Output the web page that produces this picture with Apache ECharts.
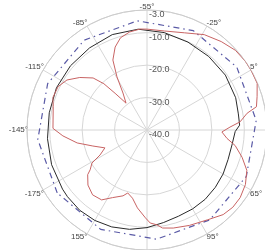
<!DOCTYPE html>
<html>
<head>
<meta charset="utf-8">
<script src="https://cdn.jsdelivr.net/npm/echarts@6/dist/echarts.min.js"></script>
<style>
  html, body { margin: 0; padding: 0; background: #fff; }
  #main { width: 265px; height: 250px; }
</style>
</head>
<body>
<div id="main"></div>
<script>
// angle labels run clockwise, -55° at the top
var angleTop = -55;
var hiddenAngleLabels = [35, 125];   // these fall outside the picture
var radiusMin = -40;
var radiusMax = -3;

// red trace: angle (deg), level (dB)
var redAngles = [-180, -176, -173, -168, -161.5, -155.5, -149, -144, -131, -126, -119, -113, -107, -101, -98, -96, -93,
  -88, -84.5, -81, -76, -71, -65, -59, -55, -45, -34, -24, -15, -7, 0, 5, 12, 18, 23, 25.5, 30, 33, 36.5, 41, 45, 51,
  57, 64, 71, 77, 83, 91, 101, 110, 116, 119, 123, 126, 132, 137, 142, 145, 152, 158, 165, 172, 178, 180];
var redValues = [-18.6, -20.2, -23.6, -25.9, -22.6, -18.1, -14.0, -11.0, -10.2, -9.3, -9.5, -10.9, -13.7, -16.9, -20.5, -25.0, -29.5,
  -26.4, -21.2, -16.0, -12.6, -10.4, -9.3, -8.8, -8.9, -9.0, -7.9, -5.7, -4.4, -3.3, -3.0, -3.0, -3.1, -4.5, -5.5, -8.7, -11.2, -14.4, -16.9, -15.2, -12.4, -9.5,
  -6.8, -5.3, -4.5, -4.4, -4.9, -6.6, -7.8, -8.7, -9.4, -10.6, -11.3, -12.9, -15.8, -18.5, -19.7, -18.4, -16.6, -14.3, -13.9, -15.1, -17.1, -18.6];

// black trace
var blackAngles = [-180, -165, -150, -135, -120, -105, -90, -75, -60, -45, -30, -15, 0, 15, 25, 32, 36, 45, 55, 65,
  75, 85, 95, 105, 115, 125, 135, 145, 155, 165, 175, 180];
var blackValues = [-8.2, -8.7, -9.2, -9.4, -9.2, -9.2, -9.1, -8.7, -8.8, -9.5, -10.1, -10.4, -10.5, -10.9, -11.4, -11.4, -12.8, -13.4, -13.4, -12.9,
  -12.5, -12.1, -11.9, -11.7, -11.0, -9.9, -8.9, -8.2, -7.8, -7.7, -8.0, -8.2];

// blue dash-dot reference ring
var blueAngles = [-180, -150, -120, -90, -60, -30, 0, 30, 60, 90, 120, 150, 180];
var blueValues = [-6.2, -6.2, -6.2, -6.2, -6.2, -6.2, -6.2, -6.2, -6.2, -6.2, -6.2, -6.2, -6.2];

function toPolar(angles, values) {
  var out = [];
  for (var i = 0; i < angles.length; i++) {
    var a = ((angles[i] - angleTop) % 360 + 360) % 360;
    out.push([values[i], a]);
  }
  return out;
}

var chart = echarts.init(document.getElementById('main'));

var option = {
  animation: false,
  textStyle: { fontFamily: 'Liberation Sans' },
  polar: {
    center: [147, 130],
    radius: 120
  },
  angleAxis: {
    type: 'value',
    min: 0,
    max: 360,
    interval: 30,
    startAngle: 90,
    clockwise: true,
    axisLine: { lineStyle: { color: '#cccccc', width: 1 } },
    axisTick: { show: false },
    splitLine: { lineStyle: { color: '#d6d6d6', width: 1 } },
    axisLabel: {
      margin: -1,
      fontSize: 8,
      color: '#444',
      formatter: function (v) {
        var a = v + angleTop;
        if (a > 180) a -= 360;
        if (hiddenAngleLabels.indexOf(a) >= 0) return '';
        return a + '°';
      }
    }
  },
  radiusAxis: {
    type: 'value',
    min: radiusMin,
    max: radiusMax,
    interval: 10,
    axisLine: { show: false },
    axisTick: { show: false },
    splitLine: { lineStyle: { color: '#d6d6d6', width: 1 } },
    axisLabel: {
      fontSize: 9,
      color: '#555',
      margin: -2,
      align: 'left',
      verticalAlign: 'top',
      hideOverlap: false,
      formatter: function (v) { return v.toFixed(1); }
    }
  },
  series: [{
    type: 'line',
    coordinateSystem: 'polar',
    symbol: 'none',
    data: toPolar(blueAngles, blueValues),
    lineStyle: { color: '#5a5aa6', width: 1.2, type: [6, 4, 1.5, 4] }
  }, {
    type: 'line',
    coordinateSystem: 'polar',
    symbol: 'none',
    data: toPolar(blackAngles, blackValues),
    lineStyle: { color: '#2a2a2a', width: 1 }
  }, {
    type: 'line',
    coordinateSystem: 'polar',
    symbol: 'none',
    data: toPolar(redAngles, redValues),
    lineStyle: { color: '#c86464', width: 1 }
  }]
};

chart.setOption(option);
</script>
</body>
</html>
